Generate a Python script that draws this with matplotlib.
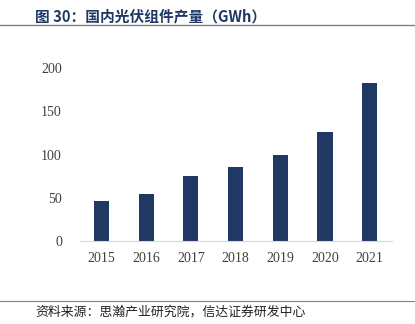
import matplotlib
matplotlib.use('Agg')
import matplotlib.pyplot as plt
from matplotlib.lines import Line2D
import numpy as np

years = ['2015', '2016', '2017', '2018', '2019', '2020', '2021']
output_gwh = [46, 54, 75, 85, 99, 125.5, 182.5]
y_ticks = [0, 50, 100, 150, 200]

title_text = '图 30：国内光伏组件产量（GWh）'
source_text = '资料来源：思瀚产业研究院，信达证券研发中心'

fig = plt.figure(figsize=(4.15, 3.24), dpi=100)
ax = fig.add_axes([80 / 415, (324 - 241) / 324, (392 - 80) / 415, (241 - 68) / 324])

x = np.arange(len(years))
ax.bar(x, output_gwh, width=0.34, color='#1f3864')

ax.set_ylim(0, 200)
ax.set_xlim(-0.48, len(years) - 0.5)
ax.set_yticks(y_ticks)
ax.set_xticks(x)
ax.set_xticklabels(years)
for lab in ax.get_xticklabels() + ax.get_yticklabels():
    lab.set_fontfamily('Liberation Serif')
    lab.set_fontsize(10)
    lab.set_color('#404040')
ax.tick_params(axis='both', length=0)
ax.tick_params(axis='y', pad=13)
ax.tick_params(axis='x', pad=8)
for s in ['top', 'right', 'left']:
    ax.spines[s].set_visible(False)
ax.spines['bottom'].set_color('#d9d9d9')

fig.text(35 / 415, 1 - 16 / 324, title_text, fontsize=10.6, fontweight='bold',
         color='#1f3864', family=['Noto Sans CJK SC', 'DejaVu Sans'], va='center')
fig.add_artist(Line2D([0, 1], [1 - 25 / 324, 1 - 25 / 324], color='#808080', lw=1))
fig.add_artist(Line2D([0, 1], [1 - 301 / 324, 1 - 301 / 324], color='#808080', lw=0.8))
fig.text(35 / 415, 1 - 312 / 324, source_text, fontsize=9.3, style='italic',
         color='#222222', family=['Noto Sans CJK SC', 'DejaVu Sans'], va='center')

fig.savefig('out.png', dpi=100)
